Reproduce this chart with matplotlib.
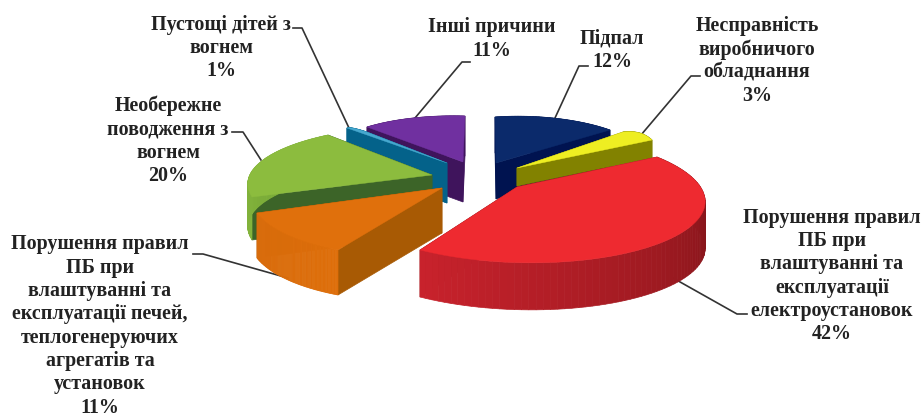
import numpy as np
import matplotlib
matplotlib.use("Agg")
import matplotlib.pyplot as plt

# fire causes, clockwise from 12 o'clock
causes = [
    "Підпал",
    "Несправність\nвиробничого\nобладнання",
    "Порушення правил\nПБ при\nвлаштуванні та\nексплуатації\nелектроустановок",
    "Порушення правил\nПБ при\nвлаштуванні та\nексплуатації печей,\nтеплогенеруючих\nагрегатів та\nустановок",
    "Необережне\nповодження з\nвогнем",
    "Пустощі дітей з\nвогнем",
    "Інші причини",
]
shares = [12, 3, 42, 11, 20, 1, 11]

# placement of each exploded slice, in pixels: tip, three rim anchors, wall height
tips = [(496, 163), (517, 168), (517, 187), (442, 188), (432, 175), (447, 163), (463, 162)]
rims = [
    [(495, 117), (553, 118), (610, 130)],
    [(623, 132), (635, 132), (652, 140)],
    [(657, 157), (672, 238), (420, 250)],
    [(338, 250), (288, 235), (257, 213)],
    [(252, 197), (263, 160), (328, 135)],
    [(347, 128), (357, 129), (367, 132)],
    [(367, 127), (413, 118), (465, 116)],
]
walls = [36, 18, 47, 45, 43, 40, 40]

top_colors = ["#0b2a6b", "#eeee22", "#ee2a30", "#e0700c", "#8cbc3e", "#46a8cf", "#7030a0"]
cut_colors = ["#001350", "#828200", "#8a1418", "#a85a04", "#3c6428", "#04628a", "#3f145c"]
rim_from = ["#001350", "#828200", "#6c1014", "#de6e0a", "#84b43c", "#04628a", "#3f145c"]
rim_to = ["#001350", "#828200", "#c8222c", "#d86c0c", "#78aa38", "#04628a", "#3f145c"]

# back slices first so the front ones overlap them
draw_order = [6, 5, 4, 3, 0, 1, 2]

label_xy = [(612, 50), (757, 61), (832, 276), (100, 326), (168, 141), (221, 48), (492, 39)]
leaders = [
    [(588, 66), (579, 66), (555, 118)],
    [(700, 76), (691, 76), (641, 135)],
    [(747, 314), (737, 314), (673, 278)],
    [(193, 254), (203, 254), (288, 278)],
    [(232, 132), (243, 132), (261, 160)],
    [(293, 28), (302, 28), (349, 128)],
    [(470, 62), (462, 62), (415, 118)],
]


def fit_rim(tip, anchors, angles):
    # projective map of the unit disc that sends the slice rim onto its anchors
    rows, rhs = [], []
    for (px, py), ang in zip(anchors, angles):
        s, c = np.sin(ang), np.cos(ang)
        dx, dy = px - tip[0], py - tip[1]
        rows.append([s, c, 0, 0, -dx * s, -dx * c])
        rows.append([0, 0, s, c, -dy * s, -dy * c])
        rhs += [dx, dy]
    a, b, p, q, g, h = np.linalg.solve(np.array(rows), np.array(rhs))

    def rim(ang):
        s, c = np.sin(ang), np.cos(ang)
        w = 1 + g * s + h * c
        return np.column_stack([tip[0] + (a * s + b * c) / w, tip[1] + (p * s + q * c) / w])

    return rim


fig = plt.figure(figsize=(9.23, 4.18), dpi=100)
ax = fig.add_axes([0, 0, 1, 1])
ax.set_xlim(0, 923)
ax.set_ylim(418, 0)
ax.axis("off")

edges = np.cumsum([0] + shares) / sum(shares) * 2 * np.pi

for i in draw_order:
    a0, a1 = edges[i], edges[i + 1]
    tip, wall = tips[i], walls[i]
    rim = fit_rim(tip, rims[i], [a0, (a0 + a1) / 2, a1])
    arc = rim(np.linspace(a0, a1, 80))
    z = 2 * draw_order.index(i) + 2

    # the two cut walls
    for end in (arc[0], arc[-1]):
        xs = [tip[0], end[0], end[0], tip[0]]
        ys = [tip[1], end[1], end[1] + wall, tip[1] + wall]
        ax.fill(xs, ys, color=cut_colors[i], lw=0.5, zorder=z)

    # outer wall, shaded strip by strip along the arc
    c0 = np.array(matplotlib.colors.to_rgb(rim_from[i]))
    c1 = np.array(matplotlib.colors.to_rgb(rim_to[i]))
    for k in range(len(arc) - 1):
        t = k / (len(arc) - 2)
        xs = [arc[k, 0], arc[k + 1, 0], arc[k + 1, 0], arc[k, 0]]
        ys = [arc[k, 1], arc[k + 1, 1], arc[k + 1, 1] + wall, arc[k, 1] + wall]
        ax.fill(xs, ys, color=c0 + (c1 - c0) * t, lw=0.5, zorder=z)

    top = np.vstack([tip, arc])
    ax.fill(top[:, 0], top[:, 1], color=top_colors[i], lw=0.3, zorder=z + 1)

for cause, share, (x, y), line in zip(causes, shares, label_xy, leaders):
    ax.text(x, y, f"{cause}\n{share}%", ha="center", va="center", family="Liberation Serif",
            weight="bold", fontsize=14.4, linespacing=1.22, color="#222222", zorder=30)
    pts = np.array(line)
    # leaders run behind the pie so they stop at its edge
    ax.plot(pts[:, 0], pts[:, 1], color="#333333", lw=1.2, zorder=1)

fig.savefig("out.png", dpi=100, facecolor="white")
